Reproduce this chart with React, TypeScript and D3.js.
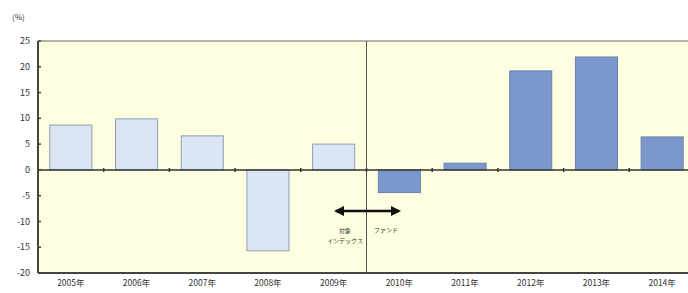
import React from "react";
import * as d3 from "d3";

const categories = ["2005年", "2006年", "2007年", "2008年", "2009年", "2010年", "2011年", "2012年", "2013年", "2014年"];
const values = [8.7, 9.9, 6.6, -15.7, 5.0, -4.4, 1.3, 19.2, 21.9, 6.4];
const seriesType = ["index", "index", "index", "index", "index", "fund", "fund", "fund", "fund", "fund"];
const yTicks = [25, 20, 15, 10, 5, 0, -5, -10, -15, -20];

const W = 688, H = 293;
const left = 38, right = 695, top = 41, bottom = 273;

export default function App() {
  const x = d3.scaleBand<string>().domain(categories).range([left, right]).paddingInner(0.36).paddingOuter(0.18);
  const y = d3.scaleLinear().domain([-20, 25]).range([bottom, top]);
  const step = x.step();
  const groupStart = (c: string) => (x(c) as number) - step * 0.18;
  const divX = groupStart(categories[5]);
  const font = "'Noto Sans CJK JP', 'Noto Sans', sans-serif";
  return (
    <svg width={W} height={H} style={{ position: "absolute", left: 0, top: 0 }}>
      <rect x={0} y={0} width={W} height={H} fill="#fff" />
      <rect x={left} y={top} width={right - left} height={bottom - top} fill="#fefee0" />
      <line x1={left} x2={right} y1={top} y2={top} stroke="#9a9a8a" strokeWidth={1.5} />
      {categories.map((c, i) => {
        const v = values[i];
        const isIdx = seriesType[i] === "index";
        return (
          <rect key={c} x={x(c)} y={y(Math.max(0, v))} width={x.bandwidth()} height={Math.abs(y(v) - y(0))}
            fill={isIdx ? "#dbe5f3" : "#7b97cc"} stroke={isIdx ? "#8f9fb2" : "#6a83b3"} strokeWidth={1} />
        );
      })}
      <line x1={divX} x2={divX} y1={top} y2={bottom} stroke="#555" strokeWidth={1} />
      <line x1={left} x2={right} y1={y(0)} y2={y(0)} stroke="#333" strokeWidth={1.5} />
      {categories.map((c) => {
        const tx = groupStart(c) + step;
        return <line key={"t" + c} x1={tx} x2={tx} y1={y(0) - 2} y2={y(0) + 2} stroke="#333" strokeWidth={1.5} />;
      })}
      <line x1={left} x2={left} y1={top} y2={bottom} stroke="#444" strokeWidth={2} />
      <line x1={left} x2={right} y1={bottom} y2={bottom} stroke="#444" strokeWidth={2} />
      {yTicks.map((t) => (
        <g key={t}>
          <line x1={left} x2={left + 3} y1={y(t)} y2={y(t)} stroke="#444" strokeWidth={1.5} />
          <text x={30} y={y(t)} dy="0.35em" textAnchor="end" fontSize={9} fontFamily={font} fill="#333">{t}</text>
        </g>
      ))}
      <text x={12} y={20} fontSize={8} fontFamily={font} fill="#333">(%)</text>
      {categories.map((c) => (
        <text key={"l" + c} x={(x(c) as number) + x.bandwidth() / 2} y={286} textAnchor="middle" fontSize={8.5} fontFamily={font} fill="#333">{c}</text>
      ))}
      <defs>
        <marker id="ah" viewBox="0 0 10 10" refX="8" refY="5" markerWidth="4" markerHeight="4" orient="auto-start-reverse">
          <path d="M0,0 L10,5 L0,10 z" fill="#111" />
        </marker>
      </defs>
      <line x1={336} x2={399} y1={211} y2={211} stroke="#111" strokeWidth={2.5} markerStart="url(#ah)" markerEnd="url(#ah)" />
      <text x={345} y={233} textAnchor="middle" fontSize={6} fontFamily={font} fill="#333">対象</text>
      <text x={345} y={243} textAnchor="middle" fontSize={6} fontFamily={font} fill="#333">インデックス</text>
      <text x={386} y={232} textAnchor="middle" fontSize={6} fontFamily={font} fill="#333">ファンド</text>
    </svg>
  );
}
